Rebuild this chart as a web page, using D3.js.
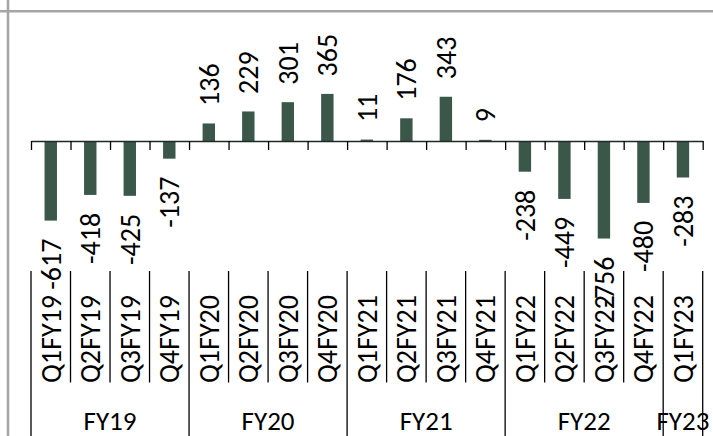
<!DOCTYPE html>
<html><head><meta charset="utf-8">
<script src="https://cdn.jsdelivr.net/npm/d3@7"></script>
<style>
html,body{margin:0;padding:0;background:#fff;}
svg{display:block;}
text{font-family:"Carlito","Lato",sans-serif;fill:#000;}
</style></head>
<body>
<svg id="chart" width="713" height="436"></svg>
<script>
const categories = ["Q1FY19","Q2FY19","Q3FY19","Q4FY19","Q1FY20","Q2FY20","Q3FY20","Q4FY20","Q1FY21","Q2FY21","Q3FY21","Q4FY21","Q1FY22","Q2FY22","Q3FY22","Q4FY22","Q1FY23"];
const values = [-617,-418,-425,-137,136,229,301,365,11,176,343,9,-238,-449,-756,-480,-283];
const groups = ["FY19","FY20","FY21","FY22","FY23"];
const groupSizes = [4,4,4,4,1];

const svg = d3.select("#chart");
const W = 713, H = 436;
const left = 31, right = 702.7, zeroY = 141;

// frame lines (grey)
svg.append("line").attr("x1",0).attr("x2",W).attr("y1",11.3).attr("y2",11.3).attr("stroke","#a6a6a6").attr("stroke-width",2.6);
svg.append("line").attr("x1",8).attr("x2",8).attr("y1",0).attr("y2",H).attr("stroke","#a6a6a6").attr("stroke-width",2.6);

const x = d3.scaleBand().domain(categories).range([left,right]).paddingInner(0.686).paddingOuter(0.343);
const xb = d3.scaleLinear().domain([0,categories.length]).range([left,right]);
const y = d3.scaleLinear().domain([-800,800]).range([zeroY+800*0.129, zeroY-800*0.129]);

// bars
svg.append("g").selectAll("rect").data(values).join("rect")
  .attr("x",(d,i)=>x(categories[i]))
  .attr("width",x.bandwidth())
  .attr("y",d=>Math.min(y(d),y(0)))
  .attr("height",d=>Math.abs(y(d)-y(0)))
  .attr("fill","#3b574a");

// axis with boundary ticks
const axis = d3.axisBottom(xb).tickValues(d3.range(0,categories.length+1)).tickSize(9).tickSizeOuter(0).tickFormat("");
const ag = svg.append("g").attr("transform",`translate(0,${y(0)})`).call(axis);
ag.select(".domain").attr("stroke","#1e2a24").attr("stroke-width",1.6);
ag.selectAll(".tick line").attr("stroke","#000").attr("stroke-width",1.3);

// value labels
const fs = 28;
svg.append("g").selectAll("text").data(values).join("text")
  .attr("transform",(d,i)=>{
    const cx = x(categories[i]) + x.bandwidth()/2;
    const yy = d>=0 ? y(d)-17.5 : y(d)+18;
    return `translate(${cx},${yy}) rotate(-90)`;
  })
  .attr("dy","0.35em")
  .attr("text-anchor",d=>d>=0?"start":"end")
  .style("font-size",fs+"px")
  .text(d=>d);

// category labels
svg.append("g").selectAll("text").data(categories).join("text")
  .attr("transform",(d)=>`translate(${x(d)+x.bandwidth()/2},${383}) rotate(-90)`)
  .attr("dy","0.35em")
  .attr("text-anchor","start")
  .style("font-size",fs+"px")
  .text(d=>d);

// separators
const groupStarts = [];
let acc = 0;
groupSizes.forEach(s=>{groupStarts.push(acc); acc+=s;});
groupStarts.push(acc);
const sep = svg.append("g").attr("stroke","#000").attr("stroke-width",1.3);
d3.range(0,categories.length+1).forEach(i=>{
  const isGroup = groupStarts.includes(i);
  sep.append("line").attr("x1",xb(i)).attr("x2",xb(i)).attr("y1",271).attr("y2",isGroup?H:382.5);
});

// group labels
svg.append("g").selectAll("text").data(groups).join("text")
  .attr("x",(g,i)=>(xb(groupStarts[i])+xb(groupStarts[i+1]))/2)
  .attr("y",430)
  .attr("text-anchor","middle")
  .style("font-size","27px")
  .text(d=>d);
</script>
</body></html>
